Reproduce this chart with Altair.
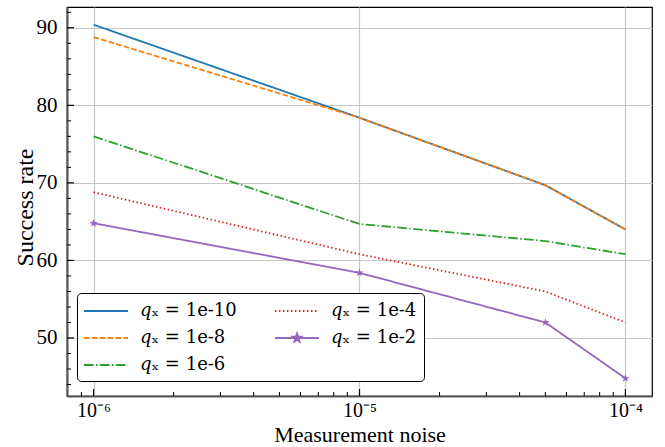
import math
import altair as alt
import pandas as pd

# ---------------- data ----------------
noise = [1e-6, 1e-5, 5e-5, 1e-4]
s_1e10 = [90.4, 78.4, 69.7, 64.0]
s_1e8 = [88.8, 78.4, 69.7, 64.0]
s_1e6 = [76.0, 64.7, 62.5, 60.8]
s_1e4 = [68.8, 60.8, 56.0, 52.0]
s_1e2 = [64.8, 58.4, 52.0, 44.8]

series_names = ["𝑞ₓ = 1e-10", "𝑞ₓ = 1e-8", "𝑞ₓ = 1e-6", "𝑞ₓ = 1e-4", "𝑞ₓ = 1e-2"]
series_vals = [s_1e10, s_1e8, s_1e6, s_1e4, s_1e2]
colors = ["#1f77b4", "#ff7f0e", "#2ca02c", "#d62728", "#9467bd"]
dashes = [[1, 0], [5.5, 2.4], [9.6, 2.4, 1.5, 2.4], [1.5, 2.5], [1, 0]]

x_major = [1e-6, 1e-5, 1e-4]
x_minor = [9e-7, 2e-6, 3e-6, 4e-6, 5e-6, 6e-6, 7e-6, 8e-6, 9e-6,
           2e-5, 3e-5, 4e-5, 5e-5, 6e-5, 7e-5, 8e-5, 9e-5]
y_major = [50, 60, 70, 80, 90]
y_minor = [44, 46, 48, 52, 54, 56, 58, 62, 64, 66, 68, 72, 74, 76, 78,
           82, 84, 86, 88, 92]

rows = []
for name, vals in zip(series_names, series_vals):
    for xv, yv in zip(noise, vals):
        rows.append({"noise": xv, "rate": yv, "series": name})
df = pd.DataFrame(rows)
df_star = df[df["series"] == series_names[4]]

# ---------------- layout ----------------
W, H = 585, 389
FONT = "Liberation Serif"
LFONT = "DejaVu Serif"
XT = "Measurement noise"
YT = "Success rate"


def star_path(cx, cy, R, r):
    pts = []
    for i in range(10):
        a = math.radians(-90 + 36 * i)
        rad = R if i % 2 == 0 else r
        pts.append((cx + rad * math.cos(a), cy + rad * math.sin(a)))
    return "M" + "L".join(f"{x:.3f},{y:.3f}" for x, y in pts) + "Z"


STAR = star_path(0, 0, 1, 0.4)
LINE_SYM = "M-1.1,0H3.3"
LINE_STAR_SYM = LINE_SYM + star_path(1.1, 0, 0.45, 0.18)
IS_PURPLE = "indexof(datum.value, '1e-2') >= 0"

xscale = alt.Scale(type="log", domain=[10 ** -6.1, 10 ** -3.9], nice=False)
yscale = alt.Scale(domain=[42.52, 92.68], nice=False, zero=False)

legend = alt.Legend(
    title=None,
    orient="none",
    legendX=10,
    legendY=286,
    columns=2,
    padding=7,
    rowPadding=7,
    columnPadding=34,
    labelFont=LFONT,
    labelFontSize=18,
    labelColor="black",
    labelLimit=0,
    labelOffset=34,
    symbolType=alt.ExprRef(expr=f"{IS_PURPLE} ? '{LINE_STAR_SYM}' : '{LINE_SYM}'"),
    symbolFillColor=alt.ExprRef(expr=f"{IS_PURPLE} ? '#9467bd' : 'transparent'"),
    symbolSize=400,
    symbolStrokeWidth=1.8,
    strokeColor="black",
    fillColor="white",
    cornerRadius=4,
)

lines = alt.Chart(df).mark_line(strokeWidth=1.8).encode(
    x=alt.X(
        "noise:Q",
        scale=xscale,
        title=XT,
        axis=alt.Axis(
            values=x_major,
            labelExpr="datum.value < 5e-6 ? '10⁻⁶' : (datum.value < 5e-5 ? '10⁻⁵' : '10⁻⁴')",
            labelFontSize=20,
            labelPadding=4,
            titleFontSize=22,
            titleY=45,
            titleBaseline="alphabetic",
        ),
    ),
    y=alt.Y(
        "rate:Q",
        scale=yscale,
        title=YT,
        axis=alt.Axis(
            values=y_major,
            labelPadding=10,
            titleX=-35,
            titleY=200,
            titleBaseline="alphabetic",
        ),
    ),
    color=alt.Color("series:N", scale=alt.Scale(domain=series_names, range=colors), legend=legend),
    strokeDash=alt.StrokeDash("series:N", scale=alt.Scale(domain=series_names, range=dashes), legend=legend),
    detail="series:N",
)

stars = alt.Chart(df_star).mark_point(
    shape=STAR, filled=True, size=75, color="#9467bd", opacity=1
).encode(
    x=alt.X("noise:Q", title=XT),
    y=alt.Y("rate:Q", title=YT),
)

xt_major = alt.Chart(pd.DataFrame({"noise": x_major})).mark_rule(color="black", strokeWidth=1.2).encode(
    x=alt.X("noise:Q", title=XT), y=alt.value(H), y2=alt.value(H - 7)
)
xt_minor = alt.Chart(pd.DataFrame({"noise": x_minor})).mark_rule(color="black", strokeWidth=1).encode(
    x=alt.X("noise:Q", title=XT), y=alt.value(H), y2=alt.value(H - 4)
)
yt_major = alt.Chart(pd.DataFrame({"rate": y_major})).mark_rule(color="black", strokeWidth=1.2).encode(
    y=alt.Y("rate:Q", title=YT), x=alt.value(0), x2=alt.value(7)
)
yt_minor = alt.Chart(pd.DataFrame({"rate": y_minor})).mark_rule(color="black", strokeWidth=1).encode(
    y=alt.Y("rate:Q", title=YT), x=alt.value(0), x2=alt.value(4)
)

chart = alt.layer(lines, stars, xt_major, xt_minor, yt_major, yt_minor).properties(
    width=W,
    height=H,
    autosize=alt.AutoSizeParams(type="none"),
    padding={"left": 67, "top": 7, "right": 13, "bottom": 51},
    background="white",
).configure_view(
    stroke="black", strokeWidth=1.2
).configure_axis(
    labelFont=FONT,
    labelFontSize=21,
    labelColor="black",
    ticks=True,
    tickSize=0,
    grid=True,
    gridColor="#c8c8c8",
    gridWidth=1.2,
    domainColor="#555555",
    domainWidth=2,
    titleFont=FONT,
    titleFontSize=24,
    titleFontWeight="normal",
    titleColor="black",
).configure_legend(
    labelFont=LFONT,
    labelFontSize=18,
    labelColor="black",
)

chart.save("out.html", embed_options={"renderer": "svg", "actions": False})
